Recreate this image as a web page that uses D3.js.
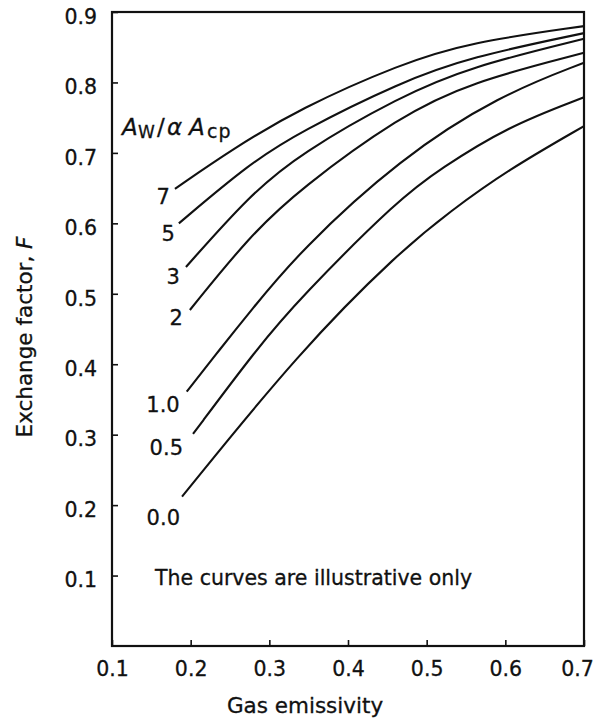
<!DOCTYPE html>
<html><head><meta charset="utf-8">
<script src="https://cdn.jsdelivr.net/npm/d3@7"></script>
<style>
body{margin:0;background:#fff}
svg{display:block}
text{font-family:"DejaVu Sans",Verdana,sans-serif;fill:#111;stroke:#111;stroke-width:0.3px}
</style>
</head><body>
<svg id="c" width="596" height="722"></svg>
<script>
// ---- data ----
const xTickValues = [0.1, 0.2, 0.3, 0.4, 0.5, 0.6, 0.7];
const xTickLabels = ["0.1", "0.2", "0.3", "0.4", "0.5", "0.6", "0.7"];
const yTickValues = [0.1, 0.2, 0.3, 0.4, 0.5, 0.6, 0.7, 0.8, 0.9];
const yTickLabels = ["0.1", "0.2", "0.3", "0.4", "0.5", "0.6", "0.7", "0.8", "0.9"];
const curveNames = ["7", "5", "3", "2", "1.0", "0.5", "0.0"];

const emis_7  = [0.180, 0.254, 0.339, 0.466, 0.555, 0.700];
const F_7     = [0.649, 0.706, 0.763, 0.826, 0.857, 0.880];
const emis_5  = [0.185, 0.275, 0.339, 0.466, 0.555, 0.700];
const F_5     = [0.600, 0.685, 0.730, 0.800, 0.836, 0.870];
const emis_3  = [0.194, 0.275, 0.339, 0.466, 0.555, 0.700];
const F_3     = [0.538, 0.640, 0.699, 0.780, 0.822, 0.862];
const emis_2  = [0.199, 0.275, 0.339, 0.466, 0.555, 0.700];
const F_2     = [0.477, 0.582, 0.649, 0.752, 0.800, 0.842];
const emis_10 = [0.195, 0.237, 0.275, 0.339, 0.466, 0.593, 0.700];
const F_10    = [0.361, 0.421, 0.474, 0.561, 0.692, 0.782, 0.828];
const emis_05 = [0.203, 0.284, 0.339, 0.466, 0.517, 0.602, 0.700];
const F_05    = [0.301, 0.422, 0.494, 0.636, 0.677, 0.737, 0.779];
const emis_00 = [0.189, 0.339, 0.466, 0.530, 0.602, 0.700];
const F_00    = [0.212, 0.419, 0.560, 0.617, 0.675, 0.738];

const seriesE = [emis_7, emis_5, emis_3, emis_2, emis_10, emis_05, emis_00];
const seriesF = [F_7, F_5, F_3, F_2, F_10, F_05, F_00];

// ---- layout ----
const svg = d3.select("#c");
const L = 112, R = 584, T = 12, B = 646;
const x = d3.scaleLinear().domain([0.1, 0.7]).range([L, R]);
const y = d3.scaleLinear().domain([0, 0.9]).range([B, T]);
const FONT = '"DejaVu Sans",Verdana,sans-serif';

// frame
svg.append("rect").attr("x", L).attr("y", T).attr("width", R - L).attr("height", B - T)
  .attr("fill", "none").attr("stroke", "#111").attr("stroke-width", 2.2);

// x axis
const xAxis = d3.axisBottom(x).tickValues(xTickValues)
  .tickFormat((d, i) => xTickLabels[i]).tickSizeInner(-6).tickSizeOuter(0).tickPadding(15);
const gx = svg.append("g").attr("transform", `translate(0,${B})`).call(xAxis);
gx.select(".domain").remove();
gx.selectAll("line").attr("stroke", "#111").attr("stroke-width", 1.6);
gx.selectAll("text").attr("font-size", 20.5).attr("font-family", FONT).attr("fill", "#111")
  .attr("dx", (d, i) => i === xTickValues.length - 1 ? -7 : 0);

// y axis
const yAxis = d3.axisLeft(y).tickValues(yTickValues)
  .tickFormat((d, i) => yTickLabels[i]).tickSizeInner(-6).tickSizeOuter(0).tickPadding(15);
const gy = svg.append("g").attr("transform", `translate(${L},0)`).call(yAxis);
gy.select(".domain").remove();
gy.selectAll("line").attr("stroke", "#111").attr("stroke-width", 1.6);
gy.selectAll("text").attr("font-size", 20.5).attr("font-family", FONT).attr("fill", "#111")
  .attr("dy", "0.55em");

// curves (smooth B-spline through the read points)
const line = d3.line().x(d => x(d[0])).y(d => y(d[1])).curve(d3.curveBasis);
seriesE.forEach((es, k) => {
  const pts = es.map((e, i) => [e, seriesF[k][i]]);
  svg.append("path").attr("d", line(pts)).attr("fill", "none")
    .attr("stroke", "#111").attr("stroke-width", 2.1);
});

// curve labels, placed just below-left of each curve's start
const labelNudge = [[-5, 15], [-4, 18], [-6, 17], [-7, 15], [-7, 20], [-10, 21], [-2, 28]];
seriesE.forEach((es, k) => {
  svg.append("text").attr("x", x(es[0]) + labelNudge[k][0]).attr("y", y(seriesF[k][0]) + labelNudge[k][1])
    .attr("text-anchor", "end").attr("font-size", 21).text(curveNames[k]);
});

// legend header  A_W / α A_cp
const hdr = svg.append("text").attr("y", 135).attr("font-size", 23);
hdr.append("tspan").attr("x", 122).attr("font-style", "italic").text("A");
hdr.append("tspan").attr("x", 138).attr("font-size", 17).attr("dy", 3).text("W");
hdr.append("tspan").attr("x", 157).attr("dy", -3).text("/");
hdr.append("tspan").attr("x", 167).attr("font-style", "italic").text("α");
hdr.append("tspan").attr("x", 189).attr("font-style", "italic").text("A");
hdr.append("tspan").attr("x", 207).attr("font-size", 19).attr("dy", 3).attr("letter-spacing", 1).text("cp");

// note
svg.append("text").attr("x", 155).attr("y", 585).attr("font-size", 20.5)
  .text("The curves are illustrative only");

// axis titles
svg.append("text").attr("x", 305).attr("y", 713).attr("text-anchor", "middle")
  .attr("font-size", 21.5).text("Gas emissivity");
const yt = svg.append("text").attr("transform", "translate(32,337) rotate(-90)")
  .attr("text-anchor", "middle").attr("font-size", 21.5);
yt.append("tspan").text("Exchange factor, ");
yt.append("tspan").attr("font-style", "italic").text("F");
</script>
</body></html>
